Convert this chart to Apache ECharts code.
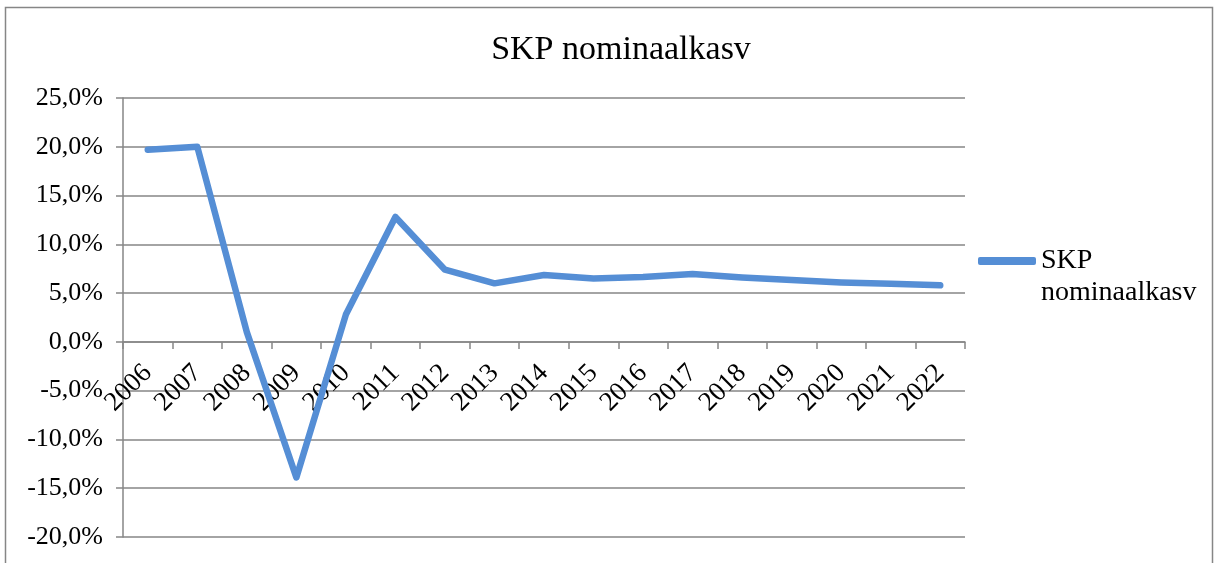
<!DOCTYPE html>
<html>
<head>
    <meta charset="UTF-8">
    <title>SKP nominaalkasv</title>
    <script src="https://cdn.jsdelivr.net/npm/echarts@6/dist/echarts.min.js"></script>
    <style>
        body { margin: 0; background: #fff; }
        #chart { width: 1218px; height: 563px; }
    </style>
</head>
<body>
    <div id="chart"></div>
    <script>
    // andmed
    const years = ['2006', '2007', '2008', '2009', '2010', '2011', '2012', '2013', '2014',
                   '2015', '2016', '2017', '2018', '2019', '2020', '2021', '2022'];
    const growth = [19.7, 20.0, 1.0, -13.9, 2.8, 12.8, 7.4, 6.0, 6.85,
                    6.5, 6.65, 6.95, 6.6, 6.35, 6.1, 5.95, 5.8];
    const seriesName = 'SKP nominaalkasv';
    const yMin = -20, yMax = 25;

    const font = '"Liberation Serif", "Times New Roman", serif';
    const gray = '#868686';

    const grid = { left: 123, right: 253, top: 98, bottom: 26 };
    const plotH = 563 - grid.top - grid.bottom;
    // x-telg nulljoonele (sildid liiguvad kaasa)
    const zeroOffset = -plotH * (0 - yMin) / (yMax - yMin);

    const chart = echarts.init(document.getElementById('chart'));
    chart.setOption({
        animation: false,
        textStyle: { fontFamily: font },
        title: {
            text: seriesName,
            left: 616,
            textAlign: 'center',
            top: 28,
            textStyle: { fontFamily: font, fontSize: 34, fontWeight: 'normal', color: '#000' }
        },
        graphic: [{
            type: 'rect',
            shape: { x: 5.5, y: 7.5, width: 1207, height: 600 },
            style: { fill: 'none', stroke: gray, lineWidth: 1.5 }
        }],
        legend: {
            left: 978,
            top: 213,
            padding: 0,
            icon: 'roundRect',
            itemWidth: 58,
            itemHeight: 8,
            formatter: () => ' \nSKP\nnominaalkasv',
            textStyle: {
                fontFamily: font, fontSize: 28, color: '#000', lineHeight: 32
            }
        },
        grid: Object.assign({ outerBoundsMode: 'none', containLabel: false }, grid),
        xAxis: {
            type: 'category',
            data: years,
            position: 'bottom',
            offset: zeroOffset,
            z: 0,
            axisLine: { onZero: false, lineStyle: { color: gray, width: 1.5 } },
            axisTick: { show: true, length: 7, lineStyle: { color: gray, width: 1.5 } },
            axisLabel: {
                rotate: 45, margin: 27, interval: 0,
                fontFamily: font, fontSize: 27, color: '#000'
            }
        },
        yAxis: {
            type: 'value',
            min: yMin, max: yMax, interval: 5,
            z: 0,
            axisLine: { show: true, lineStyle: { color: gray, width: 1.5 } },
            axisTick: { show: true, length: 7, lineStyle: { color: gray, width: 1.5 } },
            splitLine: { lineStyle: { color: gray, width: 1.5 } },
            axisLabel: {
                margin: 20,
                fontFamily: font, fontSize: 26, color: '#000',
                formatter: v => v.toFixed(1).replace('.', ',') + '%'
            }
        },
        series: [{
            name: seriesName,
            type: 'line',
            z: 10,
            data: growth,
            symbol: 'none',
            itemStyle: { color: '#558ed5' },
            lineStyle: { color: '#558ed5', width: 6.5, cap: 'round', join: 'round' }
        }]
    });
    </script>
</body>
</html>
